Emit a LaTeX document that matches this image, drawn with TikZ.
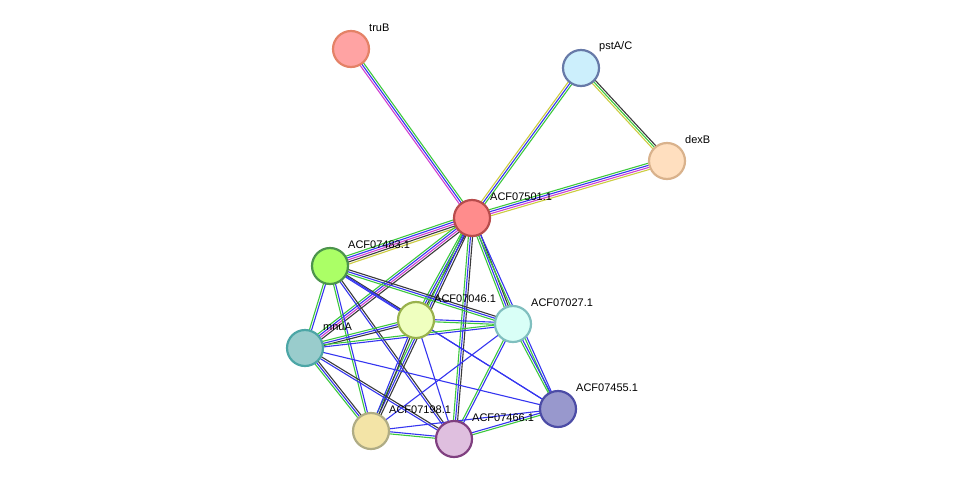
\documentclass[tikz,border=0pt]{standalone}
\usepackage{fontspec}
\setmainfont{Liberation Sans}
\usetikzlibrary{calc,backgrounds}

\definecolor{eg}{HTML}{3DC83D}
\definecolor{eb}{HTML}{3535F0}
\definecolor{ek}{HTML}{3A3A3A}
\definecolor{em}{HTML}{D040D0}
\definecolor{ey}{HTML}{CCCC40}

\tikzset{
  prot/.style={circle,minimum size=36pt,inner sep=0pt,line width=2.2pt},
  lbl/.style={anchor=west,inner sep=0pt,font=\fontsize{11}{12}\selectfont},
  lnk/.style={line width=1.1pt,draw=#1}
}

% parallel strands between two nodes, one per colour
\newcommand\lnk[3]{%
  \foreach \c [count=\n] in {#3}{\xdef\nl{\n}}%
  \foreach \c [count=\i] in {#3}{%
    \pgfmathsetmacro\o{(\i-(\nl+1)/2)*2.1}%
    \draw[lnk=\c] ($(#1)!\o pt!90:(#2)$) -- ($(#2)!\o pt!-90:(#1)$);
  }%
}

\begin{document}
\begin{tikzpicture}[x=1pt,y=-1pt]
\useasboundingbox (0,0) rectangle (976,485);

% proteins
\node[prot,fill=red!20!pink!90,draw=red!40!brown!70] (truB) at (351,49) {};
\node[prot,fill=cyan!20,draw=cyan!40!blue!50!gray] (pstA) at (581,68) {};
\node[prot,fill=orange!25,draw=brown!60] (dexB) at (667,161) {};
\node[prot,fill=red!45,draw=red!60!black!70] (a501) at (472,218) {};
\node[prot,fill=green!40!lime!60,draw=green!40!black!70] (a483) at (330,266) {};
\node[prot,fill=lime!25,draw=lime!40!gray] (a046) at (416,320) {};
\node[prot,fill=green!20!cyan!15,draw=teal!50] (a027) at (513,324) {};
\node[prot,fill=teal!40,draw=teal!70] (mnuA) at (305,348) {};
\node[prot,fill=blue!35!gray!60,draw=blue!50!black!70] (a455) at (558,409) {};
\node[prot,fill=yellow!50!brown!40,draw=yellow!40!black!60] (a198) at (371,431) {};
\node[prot,fill=violet!25,draw=violet!50!gray] (a466) at (454,439) {};

% names
\foreach \p/\t in {truB/truB,pstA/pstA\slash C,dexB/dexB,a501/ACF07501.1,a483/ACF07483.1,
  a046/ACF07046.1,a027/ACF07027.1,mnuA/mnuA,a455/ACF07455.1,a198/ACF07198.1,a466/ACF07466.1}
  \node[lbl] (\p-l) at ([shift={(18,-21)}]\p.center) {\t};

% links
\begin{scope}[on background layer]
\lnk{a501}{truB}{eg,eb,em}
\lnk{a501}{pstA}{eg,eb,ey}
\lnk{pstA}{dexB}{ey,eg,ek}
\lnk{a501}{dexB}{ey,em,eb,eg}
\lnk{a501}{a483}{eg,eb,em,ek,ey}
\lnk{a501}{a046}{eg,eb,ek}
\lnk{a501}{a027}{eg,eb,ek}
\lnk{a501}{mnuA}{eg,eb,em,ek}
\lnk{a501}{a455}{eg,eb}
\lnk{a501}{a198}{eg,eb,ek}
\lnk{a501}{a466}{eg,eb,ek}
\lnk{a483}{a046}{eb,ek}
\lnk{a483}{a027}{eg,eb,ek}
\lnk{a483}{a455}{eb}
\lnk{a483}{mnuA}{eg,eb}
\lnk{a483}{a198}{eg,eb}
\lnk{a483}{a466}{eb,ek}
\lnk{a046}{a027}{eg,eb}
\lnk{a046}{mnuA}{eg,eb,ek}
\lnk{a046}{a198}{eb,ek}
\lnk{a046}{a466}{eb}
\lnk{a046}{a455}{eb}
\lnk{a027}{mnuA}{eg,eb}
\lnk{a027}{a455}{eg,eb}
\lnk{a027}{a466}{eg,eb}
\lnk{a027}{a198}{eb}
\lnk{mnuA}{a198}{eg,eb,ek}
\lnk{mnuA}{a466}{eb,ek}
\lnk{mnuA}{a455}{eb}
\lnk{a198}{a466}{eg,eb}
\lnk{a198}{a455}{eb}
\lnk{a466}{a455}{eg,eb}
\end{scope}
\end{tikzpicture}
\end{document}
